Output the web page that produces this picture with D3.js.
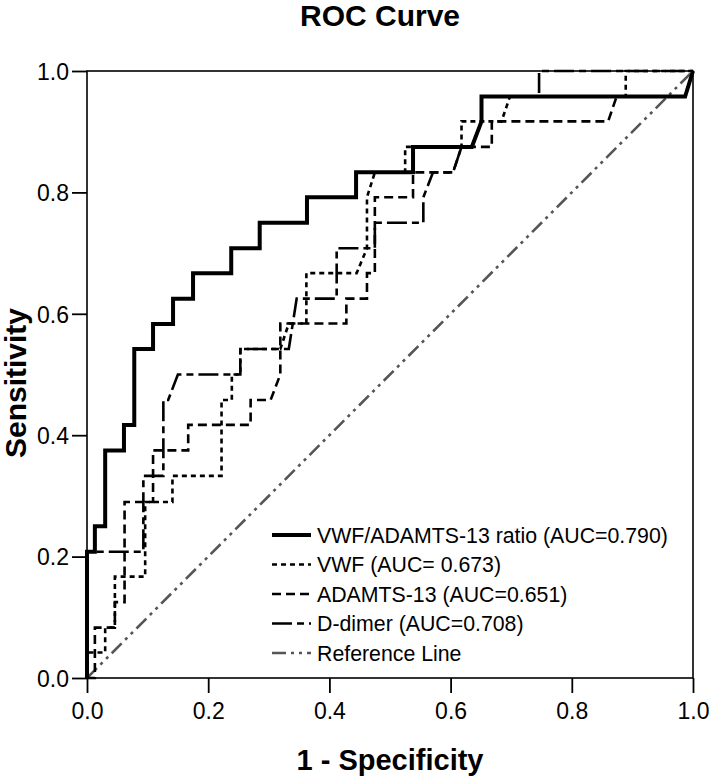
<!DOCTYPE html>
<html><head><meta charset="utf-8">
<script src="https://cdn.jsdelivr.net/npm/d3@7/dist/d3.min.js"></script>
<style>body{margin:0;background:#fff}</style>
</head><body>
<svg id="c" width="709" height="778"></svg>
<script>
// ROC curve points [1 - specificity, sensitivity]
const ratioCurve = [[0,0],[0,0.208],[0.013,0.208],[0.013,0.25],[0.03,0.25],[0.03,0.375],[0.061,0.375],[0.061,0.417],[0.078,0.417],[0.078,0.542],[0.109,0.542],[0.109,0.583],[0.142,0.583],[0.142,0.625],[0.175,0.625],[0.175,0.667],[0.238,0.667],[0.238,0.708],[0.285,0.708],[0.285,0.75],[0.363,0.75],[0.363,0.792],[0.444,0.792],[0.444,0.833],[0.538,0.833],[0.538,0.875],[0.635,0.875],[0.651,0.917],[0.651,0.958],[0.987,0.958],[1,1]];
const vwfCurve = [[0,0],[0,0.042],[0.03,0.042],[0.03,0.083],[0.046,0.083],[0.046,0.167],[0.096,0.167],[0.096,0.29],[0.141,0.29],[0.141,0.333],[0.222,0.333],[0.222,0.458],[0.239,0.458],[0.239,0.5],[0.253,0.5],[0.253,0.542],[0.319,0.542],[0.333,0.584],[0.362,0.584],[0.362,0.667],[0.445,0.667],[0.462,0.708],[0.462,0.792],[0.475,0.833],[0.525,0.833],[0.525,0.875],[0.618,0.875],[0.618,0.917],[0.668,0.917],[0.684,0.917],[0.698,0.958],[0.889,0.958],[0.889,1],[1,1]];
const adamtsCurve = [[0,0],[0.013,0],[0.013,0.083],[0.046,0.083],[0.046,0.125],[0.062,0.125],[0.062,0.29],[0.109,0.29],[0.109,0.375],[0.167,0.375],[0.167,0.417],[0.27,0.417],[0.27,0.458],[0.303,0.458],[0.319,0.5],[0.319,0.584],[0.428,0.584],[0.428,0.625],[0.462,0.625],[0.462,0.667],[0.475,0.667],[0.475,0.792],[0.538,0.792],[0.538,0.833],[0.604,0.833],[0.618,0.875],[0.668,0.875],[0.668,0.917],[0.86,0.917],[0.874,0.958],[0.987,0.958],[1,1]];
const ddimerCurve = [[0,0],[0,0.208],[0.093,0.208],[0.093,0.333],[0.126,0.333],[0.126,0.458],[0.134,0.458],[0.15,0.5],[0.253,0.5],[0.253,0.542],[0.333,0.542],[0.346,0.625],[0.412,0.625],[0.412,0.708],[0.475,0.708],[0.475,0.75],[0.555,0.75],[0.555,0.792],[0.571,0.833],[0.604,0.833],[0.618,0.875],[0.635,0.875],[0.651,0.917],[0.651,0.958],[0.746,0.958],[0.746,1],[1,1]];
const refLine = [[0,0],[1,1]];
const seriesNames = ["VWF/ADAMTS-13 ratio (AUC=0.790)","VWF (AUC= 0.673)","ADAMTS-13 (AUC=0.651)","D-dimer (AUC=0.708)","Reference Line"];
const tickValues = [0,0.2,0.4,0.6,0.8,1.0];

const styles = [
  {w:4, dash:null, c:"#000"},
  {w:2.6, dash:"5,4", c:"#000"},
  {w:2.6, dash:"9,5", c:"#000"},
  {w:2.6, dash:"20,5,7,5", c:"#000"},
  {w:2.6, dash:"14,5,3,5,3,5", c:"#555"}
];
const curves = [ratioCurve, vwfCurve, adamtsCurve, ddimerCurve, refLine];

const svg = d3.select("#c");
const L=87, R=693, T=71, B=678;
const x = d3.scaleLinear().domain([0,1]).range([L,R]);
const y = d3.scaleLinear().domain([0,1]).range([B,T]);

const line = d3.line().x(d=>x(d[0])).y(d=>y(d[1]));
[4,1,2,3,0].forEach(i=>{
  svg.append("path").attr("d", line(curves[i])).attr("fill","none")
    .attr("stroke", styles[i].c).attr("stroke-width", styles[i].w)
    .attr("stroke-dasharray", styles[i].dash)
    .attr("stroke-linejoin","miter").attr("stroke-linecap","butt");
});

svg.append("rect").attr("x",L).attr("y",T).attr("width",R-L).attr("height",B-T)
  .attr("fill","none").attr("stroke","#000").attr("stroke-width",1.6);

const fam = "'Liberation Sans',Arial,Helvetica,sans-serif";
const fmt = d3.format(".1f");
const xAxis = svg.append("g").attr("transform",`translate(0,${B})`)
  .call(d3.axisBottom(x).tickValues(tickValues).tickFormat(fmt).tickSize(15).tickSizeOuter(0));
const yAxis = svg.append("g").attr("transform",`translate(${L},0)`)
  .call(d3.axisLeft(y).tickValues(tickValues).tickFormat(fmt).tickSize(15).tickSizeOuter(0));
[xAxis,yAxis].forEach(g=>{
  g.select(".domain").remove();
  g.selectAll(".tick line").attr("stroke","#000").attr("stroke-width",1.8);
  g.selectAll(".tick text").attr("fill","#000")
   .style("font-family",fam).style("font-size","23px");
});
xAxis.selectAll(".tick text").attr("y",41).attr("dy",null);
yAxis.selectAll(".tick text").attr("x",-18).attr("dy","0.36em");

svg.append("text").attr("x",380).attr("y",26).attr("text-anchor","middle")
  .style("font-family",fam).style("font-weight","bold").style("font-size","30px").text("ROC Curve");
svg.append("text").attr("x",390).attr("y",770).attr("text-anchor","middle")
  .style("font-family",fam).style("font-weight","bold").style("font-size","29px").text("1 - Specificity");
svg.append("text").attr("transform","translate(26,383) rotate(-90)").attr("text-anchor","middle")
  .style("font-family",fam).style("font-weight","bold").style("font-size","30px").text("Sensitivity");

const lg = svg.append("g");
seriesNames.forEach((n,i)=>{
  const yy = 535 + i*29.5;
  lg.append("line").attr("x1",272).attr("x2",311).attr("y1",yy).attr("y2",yy)
    .attr("stroke",styles[i].c).attr("stroke-width",styles[i].w).attr("stroke-dasharray",styles[i].dash);
  lg.append("text").attr("x",317).attr("y",yy).attr("dy","0.36em")
    .style("font-family",fam).style("font-size","21.3px").text(n);
});
</script>
</body></html>
